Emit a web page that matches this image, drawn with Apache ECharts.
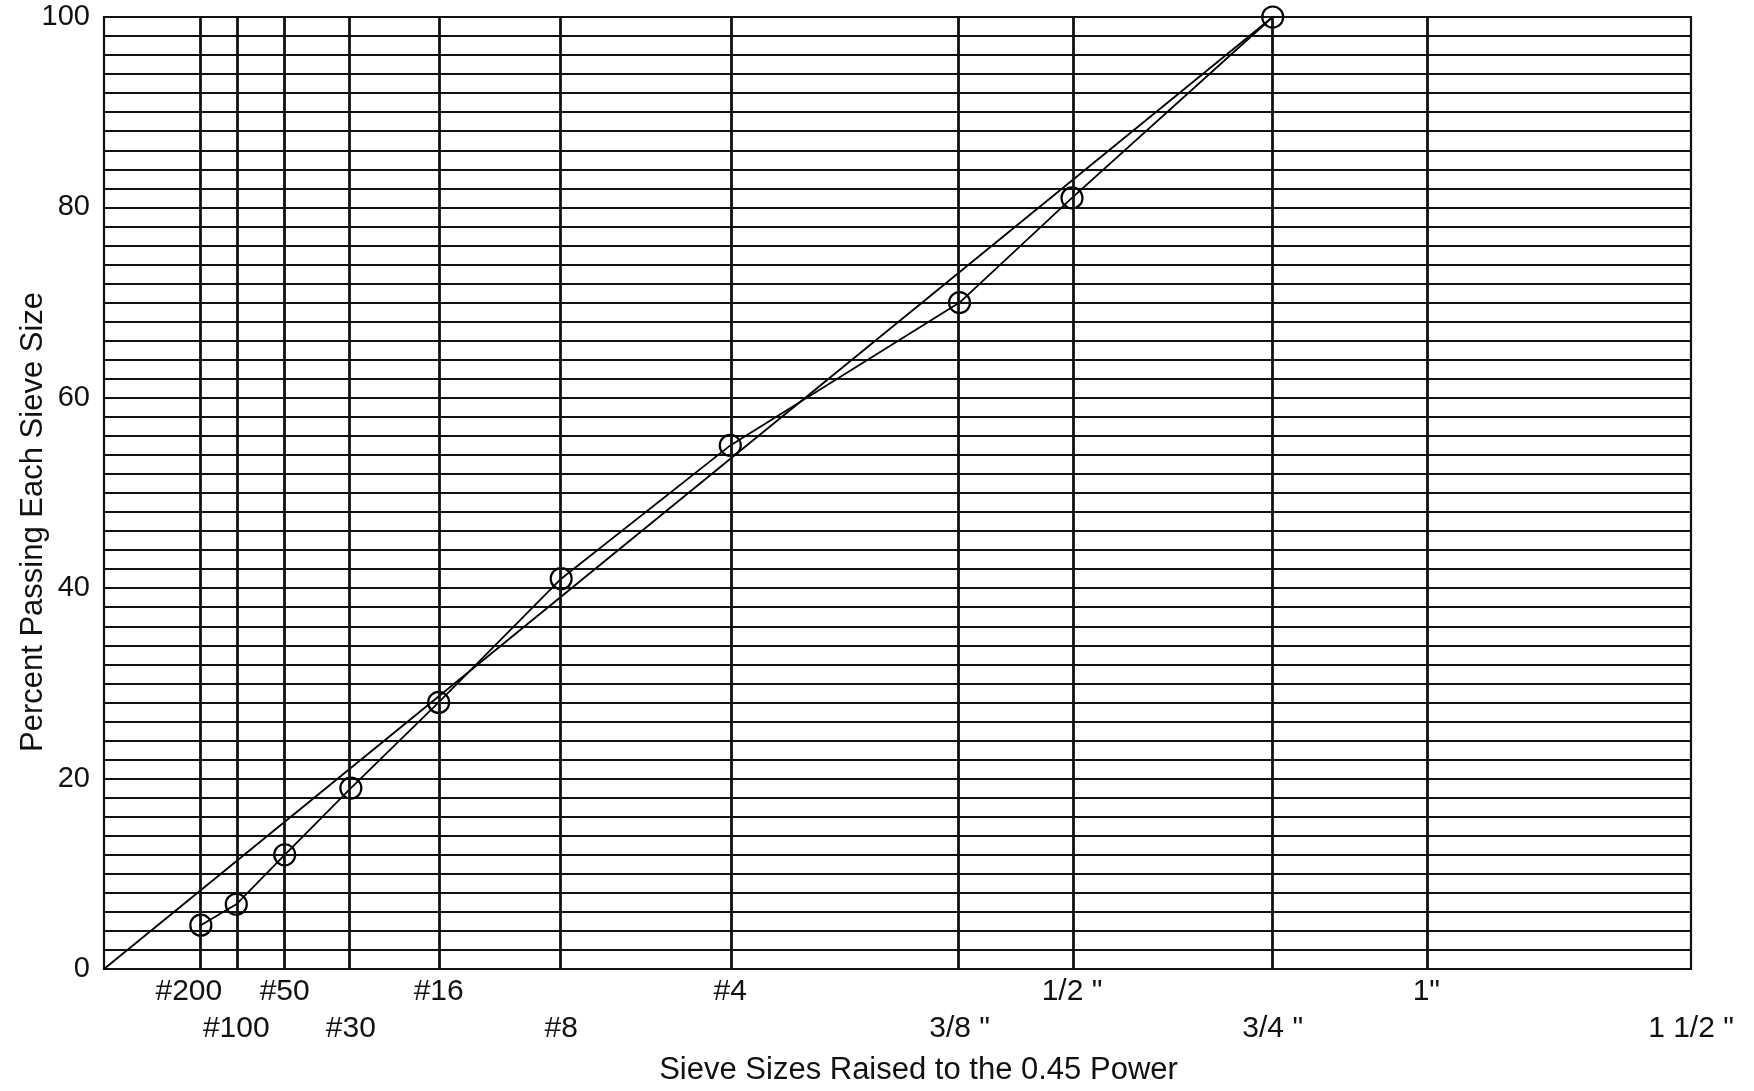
<!DOCTYPE html>
<html>
<head>
<meta charset="utf-8">
<script src="https://cdn.jsdelivr.net/npm/echarts@6/dist/echarts.min.js"></script>
<style>
  html, body { margin: 0; padding: 0; background: #fff; }
  #chart { width: 1754px; height: 1091px; }
</style>
</head>
<body>
<div id="chart"></div>
<script>
// Sieve sizes (mm) and their labels
const SIEVE_MM     = [0.075, 0.15, 0.3, 0.6, 1.18, 2.36, 4.75, 9.5, 12.5, 19, 25, 37.5];
const SIEVE_LABELS = ['#200', '#100', '#50', '#30', '#16', '#8', '#4', '3/8 "', '1/2 "', '3/4 "', '1"', '1 1/2 "'];
const LABEL_ROW    = [1, 2, 1, 2, 1, 2, 1, 2, 1, 2, 1, 2];   // which label row each sieve is printed in
const POWER = 0.45;

// Percent passing (measured gradation), #200 .. 3/4"
const PASSING = [4.6, 6.8, 12, 19, 28, 41, 55, 70, 81, 100];

// Maximum density line: from origin to the nominal max size (3/4") at 100 %
const MAX_DENSITY_PCT = [0, 100];

// Y ticks
const Y_MIN = 0, Y_MAX = 100, Y_GRID_STEP = 2, Y_LABEL_STEP = 20;

const X_TITLE = 'Sieve Sizes Raised to the 0.45 Power';
const Y_TITLE = 'Percent Passing Each Sieve Size';

// ---- derived ----
const SIEVE_X = SIEVE_MM.map(d => Math.pow(d, POWER));
const X_MAX = SIEVE_X[SIEVE_X.length - 1];
const row1 = SIEVE_X.filter((v, i) => LABEL_ROW[i] === 1);
const row2 = SIEVE_X.filter((v, i) => LABEL_ROW[i] === 2);
function labelFor(v) {
  for (let i = 0; i < SIEVE_X.length; i++) {
    if (Math.abs(SIEVE_X[i] - v) < 1e-6) return i === 0 ? '{l|' + SIEVE_LABELS[i] + '}' : '{n|' + SIEVE_LABELS[i] + '}';
  }
  return '';
}
const gradationData = PASSING.map((p, i) => [SIEVE_X[i], p]);
const maxDensityData = [[0, MAX_DENSITY_PCT[0]], [SIEVE_X[9], MAX_DENSITY_PCT[1]]];
// interior vertical lines (the last sieve coincides with the right frame)
const verticalLines = SIEVE_X.slice(0, SIEVE_X.length - 1);

const FONT = '"Liberation Sans", Arial, sans-serif';
const labelRich = {
  n: { fontFamily: FONT, fontSize: 30, color: '#111' },
  l: { fontFamily: FONT, fontSize: 30, color: '#111', padding: [0, 24, 0, 0] }
};

const chart = echarts.init(document.getElementById('chart'), null, { renderer: 'canvas' });
chart.setOption({
  backgroundColor: '#fff',
  animation: false,
  grid: { left: 104, right: 63, top: 17, bottom: 120, show: true, borderColor: '#111', borderWidth: 2.2, backgroundColor: 'transparent' },
  xAxis: [
    {
      type: 'value', min: 0, max: X_MAX, position: 'bottom',
      axisLine: { show: false }, axisTick: { show: false }, splitLine: { show: false },
      axisLabel: {
        customValues: row1, formatter: v => labelFor(v), margin: 8, rich: labelRich,
        fontFamily: FONT, fontSize: 30, color: '#111'
      },
      name: X_TITLE, nameLocation: 'middle', nameGap: 86,
      nameTextStyle: { fontFamily: FONT, fontSize: 31, color: '#111', padding: [0, 0, 0, 42] }
    },
    {
      type: 'value', min: 0, max: X_MAX, position: 'bottom', offset: 37,
      axisLine: { show: false }, axisTick: { show: false }, splitLine: { show: false },
      axisLabel: {
        customValues: row2, formatter: v => labelFor(v), margin: 8, rich: labelRich,
        fontFamily: FONT, fontSize: 30, color: '#111'
      }
    }
  ],
  yAxis: {
    type: 'value', min: Y_MIN, max: Y_MAX, interval: Y_GRID_STEP,
    axisLine: { show: false }, axisTick: { show: false },
    splitLine: { show: true, lineStyle: { color: '#111', width: 2 } },
    axisLabel: {
      formatter: v => (v % Y_LABEL_STEP === 0 ? String(v) : ''),
      margin: 14, fontFamily: FONT, fontSize: 29, color: '#111'
    }
  },
  graphic: [
    {
      type: 'text', x: 33, y: 522, rotation: Math.PI / 2,
      style: { text: Y_TITLE, fontFamily: FONT, fontSize: 31, fill: '#111', align: 'center', verticalAlign: 'middle' }
    }
  ],
  series: [
    {
      name: 'sieve lines', type: 'line', data: [], xAxisIndex: 0, silent: true,
      markLine: {
        silent: true, symbol: 'none', label: { show: false },
        lineStyle: { color: '#111', width: 2.8, type: 'solid' },
        data: verticalLines.map(v => ({ xAxis: v }))
      }
    },
    {
      name: 'Maximum density', type: 'line', data: maxDensityData, xAxisIndex: 0,
      showSymbol: false, symbol: 'none',
      lineStyle: { color: '#000', width: 1.8 }
    },
    {
      name: 'Gradation', type: 'line', data: gradationData, xAxisIndex: 0,
      symbol: 'circle', symbolSize: 21, showSymbol: true,
      itemStyle: { color: 'rgba(0,0,0,0)', borderColor: '#000', borderWidth: 2.2 },
      lineStyle: { color: '#000', width: 1.8 }
    }
  ]
});
</script>
</body>
</html>
